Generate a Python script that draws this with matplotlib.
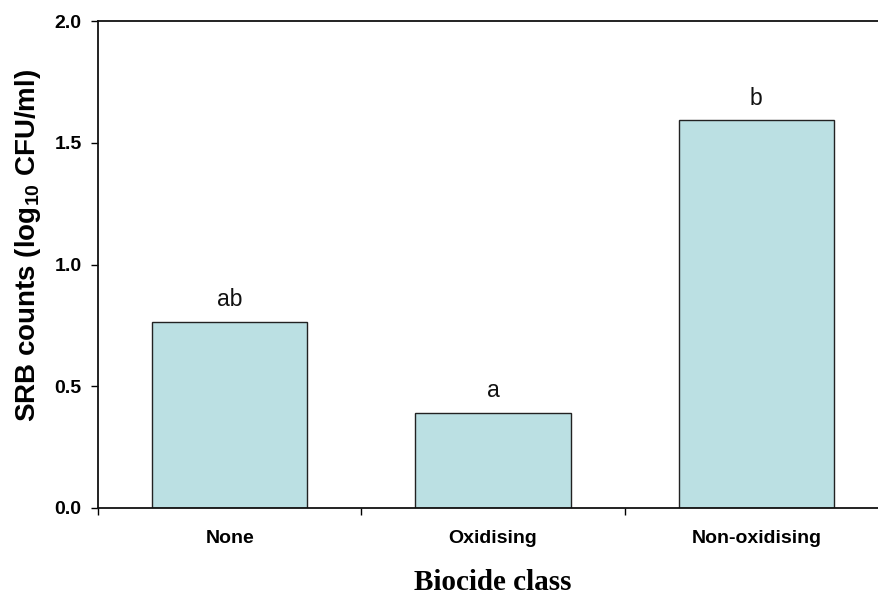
import matplotlib
matplotlib.use("Agg")
import matplotlib.pyplot as plt
import numpy as np

categories = ["None", "Oxidising", "Non-oxidising"]
values = [0.764, 0.391, 1.592]
letters = ["ab", "a", "b"]
yticks = [0.0, 0.5, 1.0, 1.5, 2.0]

plt.rcParams['font.family'] = ['Liberation Sans', 'DejaVu Sans']
plt.rcParams['mathtext.fontset'] = 'custom'
plt.rcParams['mathtext.rm'] = 'Liberation Sans'
plt.rcParams['mathtext.bf'] = 'Liberation Sans:bold'

fig = plt.figure(figsize=(8.79, 5.95), dpi=100)
ax = fig.add_axes([98/879, 87/595, 790/879, 487/595])

x = np.arange(len(categories))
ax.bar(x, values, width=0.59, color="#BBE0E3", edgecolor="#222222", linewidth=1.0, zorder=2)
for xi, v, l in zip(x, values, letters):
    ax.text(xi, v + 0.065, l, ha="center", va="baseline", fontsize=16.5, color="#111111")

ax.set_xlim(-0.5, 2.5)
ax.set_ylim(0, 2.0)
ax.set_yticks(yticks)
ax.set_yticklabels([f"{t:.1f}" for t in yticks], fontsize=14, fontweight="bold")
ax.set_xticks(x)
ax.set_xticklabels(categories, fontsize=14, fontweight="bold")
ax.tick_params(axis="x", which="major", length=0, pad=16)
ax.set_xticks([-0.5, 0.5, 1.5, 2.5], minor=True)
ax.tick_params(axis="x", which="minor", length=5, width=1, direction="out")
ax.tick_params(axis="y", length=4.7, width=1, direction="out", pad=7)

for s in ["left", "bottom", "top", "right"]:
    ax.spines[s].set_linewidth(1.3)
    ax.spines[s].set_color("#111111")

ax.set_ylabel(r"SRB counts (log$_{\mathbf{10}}$ CFU/ml)", fontsize=20, fontweight="bold",
              va="center")
ax.yaxis.set_label_coords((28 - 98) / 790, (508 - 245) / 487)
ax.set_xlabel("Biocide class", fontsize=21, fontweight="bold", family="Liberation Serif",
              va="center")
ax.xaxis.set_label_coords(0.5, (508 - 582) / 487)

fig.savefig("out.png", dpi=100)
